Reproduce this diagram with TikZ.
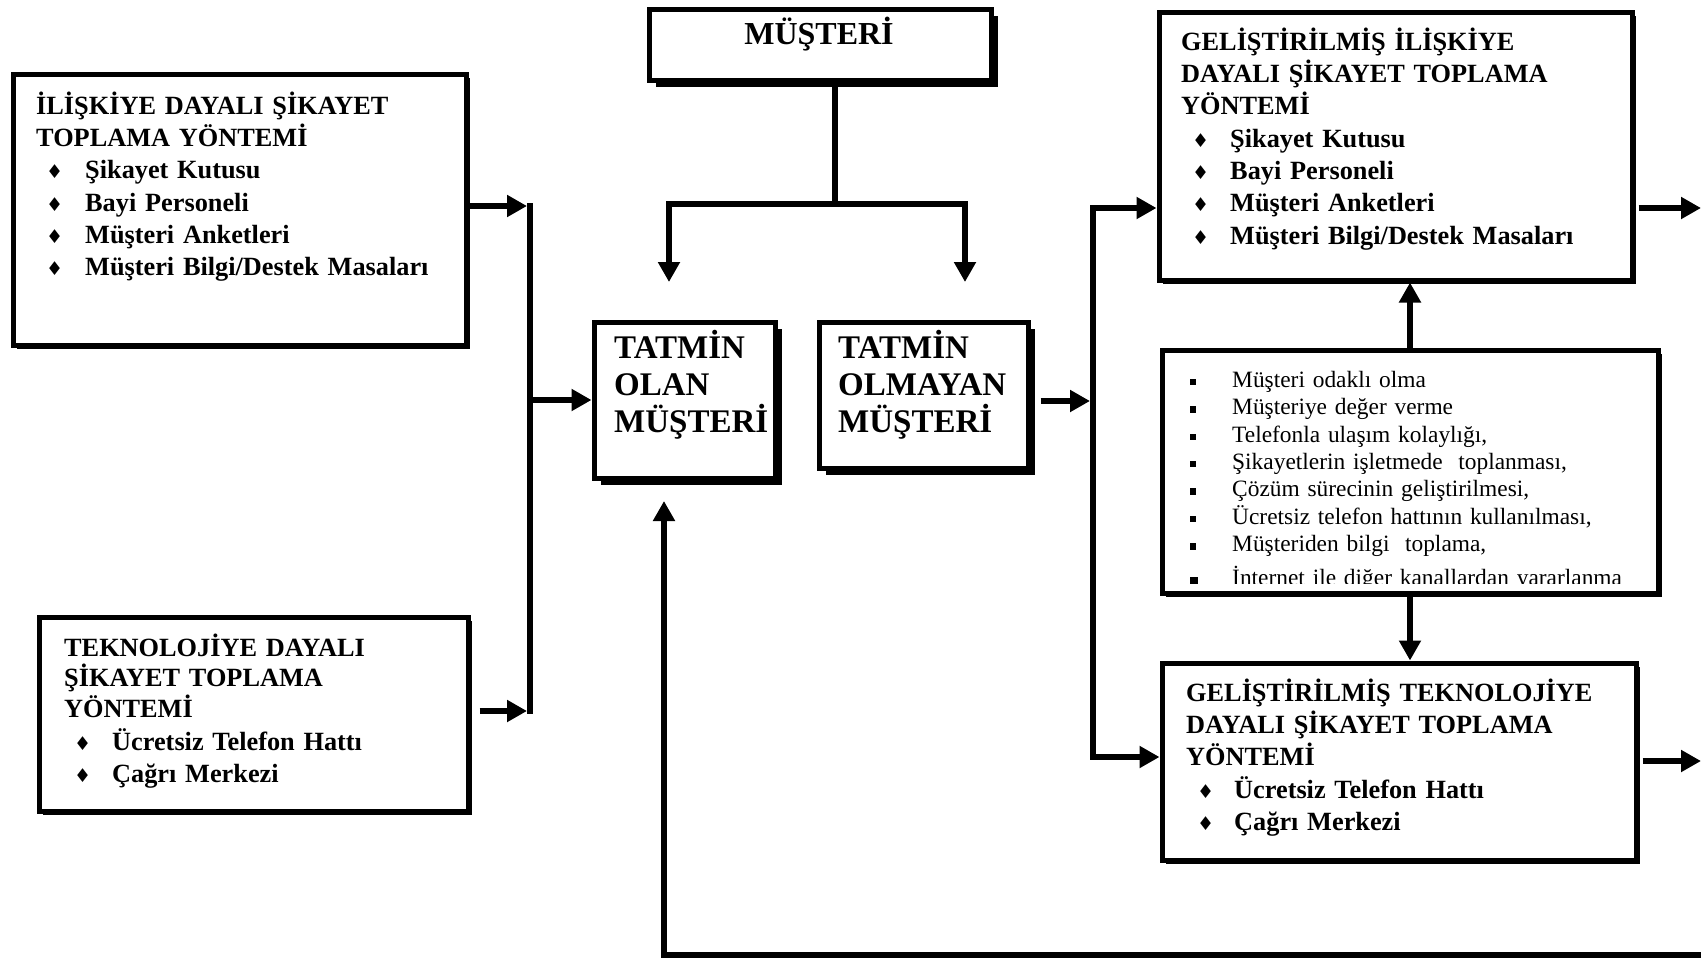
\documentclass[tikz,border=0pt]{standalone}
\usepackage{fontspec}
\setmainfont{Liberation Serif}
\newfontfamily\symfont{DejaVu Sans}
\usetikzlibrary{arrows.meta,shadows,calc}
\setlength\parindent{0pt}
\newcommand\myfontA{\bfseries\fontsize{26.3}{32.3}\selectfont}
\newcommand\myfontB{\bfseries\fontsize{33}{37}\selectfont}
\newcommand\myfontM{\bfseries\fontsize{32}{37}\selectfont}
\newcommand\myfontC{\fontsize{23.4}{27.4}\selectfont}
\newcommand\dbul[2]{\hspace*{#1}\makebox[#2][l]{\raisebox{0pt}{\symfont\mdseries\fontsize{19}{19}\selectfont ♦}}}
\newcommand\sqbul{\makebox[42pt][l]{\raisebox{2pt}{\rule{5.5pt}{6.5pt}}}}
\begin{document}
\begin{tikzpicture}[x=1pt,y=-1pt,
  box/.style={draw, line width=5pt, fill=white, inner sep=0pt,
    drop shadow={shadow xshift=4pt, shadow yshift=-4pt, fill=black, opacity=1}},
  sbox/.style={draw, line width=5pt, fill=white, inner sep=0pt,
    drop shadow={shadow xshift=7pt, shadow yshift=-7pt, fill=black, opacity=1}},
  conn/.style={line width=6.5pt},
  arr/.style={line width=6.5pt, -{Triangle[length=20pt,width=21pt]}},
  txt/.style={anchor=north west, inner sep=0pt, align=left, text width=460pt}
]
\useasboundingbox (0,0) rectangle (1701,959);
\fill[white] (0,0) rectangle (1701,959);

% boxes
\node[sbox, minimum width=342pt, minimum height=71pt] (must) at (820,44.5) {};
\node[box, minimum width=453pt, minimum height=271pt] (l1) at (239.5,209.5) {};
\node[box, minimum width=429pt, minimum height=194pt] (l2) at (253.5,714) {};
\node[sbox, minimum width=181pt, minimum height=156pt] (t1) at (684.5,400) {};
\node[sbox, minimum width=209pt, minimum height=146pt] (t2) at (923.5,395) {};
\node[box, minimum width=473pt, minimum height=268pt] (r1) at (1395.5,146) {};
\node[box, minimum width=496pt, minimum height=243pt] (rm) at (1410,471.5) {};
\node[box, minimum width=474pt, minimum height=197pt] (r2) at (1399,761.5) {};

% top split
\coordinate (j) at (835,204);
\coordinate (ja) at (669,282);
\coordinate (jb) at (965,282);
\draw[conn] (must.south -| j) -- (j);
\draw[arr] (j) -| (ja);
\draw[arr] (j) -| (jb);

% left collector
\coordinate (va) at (530,206);
\coordinate (vb) at (530,711);
\draw[conn, line cap=rect] (va) -- (vb);
\draw[arr, shorten >=3pt] (l1.east |- va) -- (va);
\draw[arr, shorten >=3pt] ($(l2.east |- vb)+(9,0)$) -- (vb);
\draw[arr] (t1.west -| va) -- (t1.west);

% right distributor
\coordinate (wa) at (1093,208);
\coordinate (wm) at (1093,401);
\coordinate (wb) at (1093,757);
\draw[conn, line cap=rect] (wa) -- (wb);
\draw[arr, shorten >=3pt] ($(t2.east |- wm)+(10,0)$) -- (wm);
\draw[arr] (wa) -- (r1.west |- wa);
\draw[arr] (wb) -- (r2.west |- wb);

% exits
\coordinate (ea) at (1701,208);
\coordinate (eb) at (1701,761);
\draw[arr] ($(r1.east |- ea)+(4,0)$) -- (ea);
\draw[arr] ($(r2.east |- eb)+(4,0)$) -- (eb);

% middle-right links
\draw[arr] (rm.north) -- (r1.south -| rm.north);
\draw[arr] (rm.south) -- (r2.north -| rm.south);

% feedback loop
\coordinate (la) at (664,501);
\coordinate (lb) at (664,955);
\coordinate (lc) at (1701,955);
\draw[arr] (lc) -- (lb) -- (la);

% texts
\node[font=\myfontM, anchor=base, inner sep=0pt] (mustt) at (819,44) {MÜŞTERİ};
\node[txt, font=\myfontB, text width=175pt] (t1t) at (614,330)
  {\rule{0pt}{28pt}TATMİN\\OLAN\\MÜŞTERİ};
\node[txt, font=\myfontB, text width=190pt] (t2t) at (838,330)
  {\rule{0pt}{28pt}TATMİN\\OLMAYAN\\MÜŞTERİ};

\node[txt, font=\myfontA] (l1t) at (36,90)
  {\rule{0pt}{24pt}İLİŞKİYE DAYALI ŞİKAYET\\TOPLAMA YÖNTEMİ\\
   \dbul{10pt}{39pt}Şikayet Kutusu\\
   \dbul{10pt}{39pt}Bayi Personeli\\
   \dbul{10pt}{39pt}Müşteri Anketleri\\
   \dbul{10pt}{39pt}Müşteri Bilgi/Destek Masaları};

\node[txt, font=\myfontA] (l2t) at (64,632)
  {\rule{0pt}{24pt}TEKNOLOJİYE DAYALI\\[-1.8pt]ŞİKAYET TOPLAMA\\[-1.8pt]YÖNTEMİ\\[1pt]
   \dbul{10pt}{38pt}Ücretsiz Telefon Hattı\\
   \dbul{10pt}{38pt}Çağrı Merkezi};

\node[txt, font=\myfontA] (r1t) at (1181,26)
  {\rule{0pt}{24pt}GELİŞTİRİLMİŞ İLİŞKİYE\\DAYALI ŞİKAYET TOPLAMA\\YÖNTEMİ\\
   \dbul{11pt}{38pt}Şikayet Kutusu\\
   \dbul{11pt}{38pt}Bayi Personeli\\
   \dbul{11pt}{38pt}Müşteri Anketleri\\
   \dbul{11pt}{38pt}Müşteri Bilgi/Destek Masaları};

\node[txt, font=\myfontA] (r2t) at (1186,677)
  {\rule{0pt}{24pt}GELİŞTİRİLMİŞ TEKNOLOJİYE\\DAYALI ŞİKAYET TOPLAMA\\YÖNTEMİ\\
   \dbul{11pt}{37pt}Ücretsiz Telefon Hattı\\
   \dbul{11pt}{37pt}Çağrı Merkezi};

\node[txt, font=\myfontC] (rmt) at (1190,366)
  {\rule{0pt}{21pt}\sqbul Müşteri odaklı olma\\
   \sqbul Müşteriye değer verme\\
   \sqbul Telefonla ulaşım kolaylığı,\\
   \sqbul Şikayetlerin işletmede\ \ toplanması,\\
   \sqbul Çözüm sürecinin geliştirilmesi,\\
   \sqbul Ücretsiz telefon hattının kullanılması,\\
   \sqbul Müşteriden bilgi\ \ toplama,};
\begin{scope}
  \clip (1164,352) rectangle (1656,583);
  \node[txt, font=\myfontC] (rm8) at (1190,564)
    {\rule{0pt}{21pt}\makebox[42pt][l]{\raisebox{-1pt}{\rule{8pt}{9pt}}}İnternet ile diğer kanallardan yararlanma};
\end{scope}
\end{tikzpicture}
\end{document}
